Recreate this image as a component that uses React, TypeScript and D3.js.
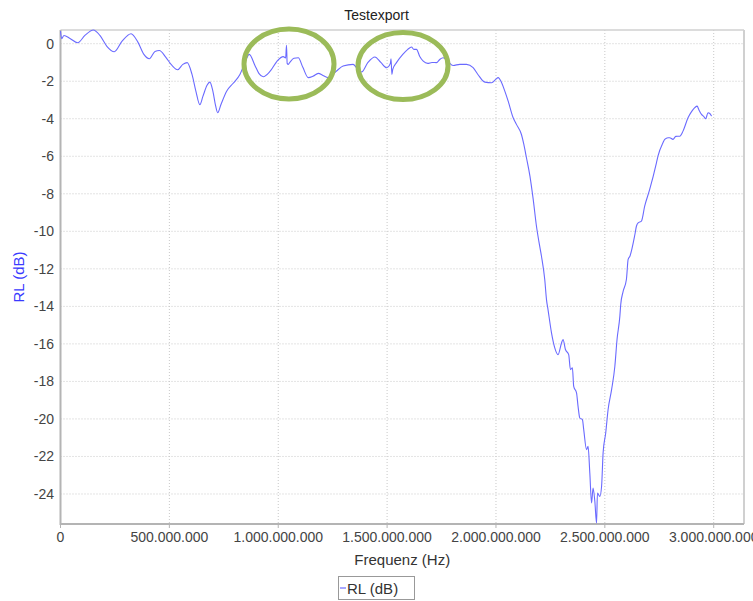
import React from "react";
import { scaleLinear, line, curveMonotoneX } from "d3";

// frequency in MHz, return loss in dB
const freqMHz = [
  0, 5.5, 16, 43.6, 79, 112, 151, 181, 213, 247, 282, 324, 356, 383, 408, 434, 454, 484, 512, 538,
  562, 582, 604, 622, 640, 654, 673, 686, 700, 712, 722, 737, 763, 792, 824, 847, 867, 893, 911, 931,
  962, 994, 1023, 1034, 1038, 1041, 1046, 1054, 1072, 1092, 1113, 1138, 1159, 1184, 1205, 1229, 1265,
  1298, 1344, 1366, 1383, 1412, 1444, 1471, 1498, 1515, 1518, 1522, 1526, 1543, 1572, 1595, 1612, 1623,
  1635, 1650, 1666, 1687, 1706, 1727, 1742, 1757, 1779, 1803, 1834, 1865, 1895, 1917, 1949, 1980, 1999,
  2010, 2026, 2041, 2056, 2079, 2094, 2117, 2128, 2140, 2156, 2171, 2186, 2197, 2209, 2224, 2232, 2239,
  2255, 2270, 2285, 2301, 2308, 2319, 2334, 2342, 2351, 2357, 2370, 2377, 2385, 2397, 2403, 2416, 2423,
  2431, 2439, 2446, 2454, 2462, 2466, 2477, 2485, 2492, 2504, 2515, 2531, 2546, 2556, 2569, 2573, 2584,
  2599, 2607, 2615, 2638, 2645, 2653, 2668, 2683, 2706, 2737, 2744, 2767, 2775, 2790, 2798, 2813, 2826,
  2844, 2859, 2882, 2899, 2913, 2924, 2931, 2944, 2954, 2963, 2974, 2982, 2990,
];
const rlDb = [
  0.67, 0.27, 0.44, 0.28, 0.05, 0.44, 0.73, 0.44, -0.14, -0.43, 0.12, 0.53, 0.07, -0.57, -0.8, -0.41,
  -0.36, -0.73, -1.16, -1.39, -1.1, -1.01, -1.64, -2.54, -3.25, -2.81, -2.22, -2.05, -2.54, -3.29, -3.68,
  -3.24, -2.53, -2.12, -1.64, -1.0, -0.57, -1.16, -1.58, -1.76, -1.48, -0.94, -0.69, -0.76, -0.09, -1.05,
  -1.1, -0.98, -0.78, -0.75, -1.26, -1.81, -1.74, -1.58, -1.69, -1.81, -1.48, -1.19, -1.1, -1.37, -1.51,
  -1.0, -0.71, -1.0, -1.28, -1.05, -0.8, -1.64, -1.37, -1.01, -0.57, -0.3, -0.18, -0.3, -0.3, -0.68,
  -0.93, -1.05, -1.0, -1.01, -0.84, -0.75, -0.94, -1.16, -1.1, -1.1, -1.28, -1.64, -2.05, -2.08, -1.9,
  -1.81, -2.08, -2.54, -3.06, -3.95, -4.3, -4.84, -5.37, -6.08, -7.06, -8.3, -9.73, -10.54, -11.33,
  -12.57, -13.64, -14.17, -15.41, -16.21, -16.57, -15.95, -15.77, -16.3, -16.57, -17.37, -17.28, -18.26,
  -18.61, -19.33, -19.95, -20.04, -20.57, -21.64, -21.46, -22.88, -24.48, -23.68, -24.39, -25.55, -23.95,
  -24.13, -23.6, -21.81, -20.75, -19.5, -18.44, -17.19, -15.77, -14.52, -13.9, -13.2, -12.57, -11.5,
  -11.33, -10.17, -9.73, -9.55, -9.46, -8.66, -7.77, -6.35, -5.99, -5.28, -5.1, -5.01, -5.01, -5.1,
  -4.94, -4.93, -4.66, -3.95, -3.61, -3.41, -3.33, -3.5, -3.77, -3.88, -4.0, -3.68, -3.72, -3.86,
];
const xTicks = [0, 500, 1000, 1500, 2000, 2500, 3000];
const xTickLabels = ["0", "500.000.000", "1.000.000.000", "1.500.000.000", "2.000.000.000", "2.500.000.000", "3.000.000.000"];
const yTicks = [0, -2, -4, -6, -8, -10, -12, -14, -16, -18, -20, -22, -24];

const W = 753;
const H = 601;
const left = 60.5;
const right = 744;
const top = 30;
const bottom = 524;
const font = "'Liberation Sans', Arial, sans-serif";

export default function App() {
  const x = scaleLinear().domain([0, 3146]).range([left, right + 1.5]);
  const y = scaleLinear().domain([0.73, -25.6]).range([top, bottom]);
  const pts = freqMHz.map((f, i) => [f, rlDb[i]] as [number, number]);
  const path = line<[number, number]>()
    .x((d) => x(d[0]))
    .y((d) => y(d[1]))
    .curve(curveMonotoneX)(pts);

  return (
    <svg width={W} height={H} style={{ position: "absolute", left: 0, top: 0, background: "#fff" }} fontFamily={font}>
      <text x={W / 2} y={20} textAnchor="middle" fontSize={14} fill="#222">
        Testexport
      </text>
      {/* grid */}
      {xTicks.map((t) => (
        <line key={"gx" + t} x1={x(t)} x2={x(t)} y1={top} y2={bottom} stroke="#c8c8c8" strokeDasharray="1,2" />
      ))}
      {yTicks.map((t) => (
        <line key={"gy" + t} x1={left} x2={right} y1={y(t)} y2={y(t)} stroke="#c8c8c8" strokeDasharray="1,2" />
      ))}
      {/* frame */}
      <line x1={left} x2={right} y1={top} y2={top} stroke="#d0d0d0" strokeWidth={1.5} />
      <line x1={right} x2={right} y1={top} y2={bottom} stroke="#d0d0d0" strokeWidth={2} />
      <line x1={left} x2={left} y1={top} y2={bottom + 1} stroke="#b4b4b4" strokeWidth={2} />
      <line x1={left} x2={right} y1={bottom} y2={bottom} stroke="#b4b4b4" strokeWidth={2} />
      {xTicks.map((t) => (
        <line key={"tx" + t} x1={x(t)} x2={x(t)} y1={bottom} y2={bottom + 4} stroke="#b4b4b4" />
      ))}
      {/* data */}
      <path d={path || ""} fill="none" stroke="#6a6aff" strokeWidth={1.1} />
      {/* tick labels */}
      {yTicks.map((t) => (
        <text key={"ly" + t} x={54} y={y(t)} dy="0.35em" textAnchor="end" fontSize={14} fill="#444">
          {t}
        </text>
      ))}
      {xTicks.map((t, i) => (
        <text key={"lx" + t} x={x(t)} y={bottom + 18} textAnchor="middle" fontSize={14} fill="#444">
          {xTickLabels[i]}
        </text>
      ))}
      <text x={(left + right) / 2} y={565} textAnchor="middle" fontSize={15} fill="#333">
        Frequenz (Hz)
      </text>
      <text
        transform={`translate(24,${(top + bottom) / 2}) rotate(-90)`}
        textAnchor="middle"
        fontSize={15}
        fill="#3a3aff"
      >
        RL (dB)
      </text>
      {/* legend */}
      <rect x={338.5} y={576.5} width={76} height={23} fill="#fff" stroke="#999" />
      <line x1={340} x2={346} y1={588} y2={588} stroke="#8a8aff" strokeWidth={1.5} />
      <text x={347} y={593.5} fontSize={15} fill="#333">
        RL (dB)
      </text>
      {/* annotation ellipses */}
      <ellipse cx={289} cy={64} rx={45} ry={35} fill="none" stroke="#9bbb59" strokeWidth={5} />
      <ellipse cx={403} cy={66} rx={45} ry={33.5} fill="none" stroke="#9bbb59" strokeWidth={5} />
    </svg>
  );
}
